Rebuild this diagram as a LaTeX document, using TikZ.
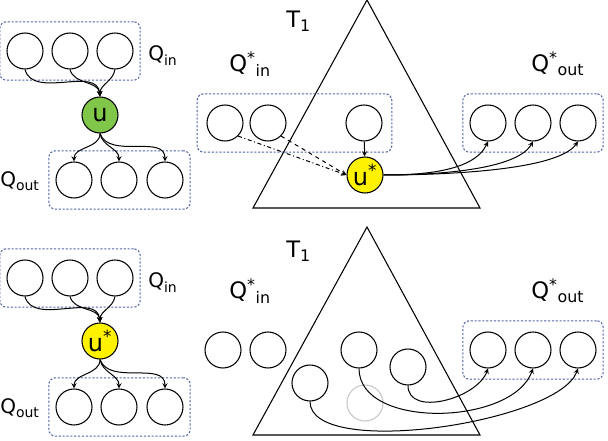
\documentclass[tikz,border=0pt]{standalone}
\usepackage{fontspec}
\setmainfont{DejaVu Sans}
\usetikzlibrary{arrows, positioning, fit}

\definecolor{boxblue}{RGB}{80,100,165}
\definecolor{ugreen}{RGB}{128,198,72}
\definecolor{uyellow}{RGB}{255,242,0}

\begin{document}
\begin{tikzpicture}[x=0.75pt, y=-0.75pt]

% Define styles
\tikzstyle{vert} = [circle, draw=black, line width=0.8pt, minimum size=27pt, inner sep=0pt]
\tikzstyle{qbox} = [rectangle, rounded corners=5pt, draw=boxblue, dash pattern=on 1.6pt off 1.3pt, line width=0.8pt, inner xsep=5pt, inner ysep=8pt]
\tikzstyle{arrow} = [line width=0.75pt, ->, >=stealth]
\tikzstyle{lbl} = [inner sep=0pt, font=\fontsize{15}{18}\selectfont]
\tikzstyle{biglbl} = [inner sep=0pt, font=\fontsize{17}{20}\selectfont]
\tikzstyle{ulbl} = [font=\fontsize{18}{20}\selectfont]

\useasboundingbox (0,0) rectangle (608,441);

% Trees
\draw [line width=0.8pt] (367,0) -- (480,208) -- (253,208) -- cycle;
\draw [line width=0.8pt] (367,227) -- (480,435) -- (253,435) -- cycle;

% Upper left: vertex u
\node (a1) [vert] at (25,51) {};
\node (a2) [vert] at (70,51) {};
\node (a3) [vert] at (115,51) {};
\node (qin) [qbox, fit=(a1)(a3)] {};
\node (qinlbl) [lbl, anchor=base west] at (148,61) {Q\textsubscript{in}};
\node (u) [vert, fill=ugreen, ulbl] at (100,115) {u};
\node (b1) [vert] at (74,180) {};
\node (b2) [vert] at (119,180) {};
\node (b3) [vert] at (165,180) {};
\node (qout) [qbox, fit=(b1)(b3)] {};
\node (qoutlbl) [lbl, anchor=base west] at (0,187) {Q\textsubscript{out}};

\draw [arrow] (a1.south) to[out=-75, in=95] (u.north);
\draw [arrow] (a2.south) to[out=-75, in=95] (u.north);
\draw [arrow] (a3.south) to[out=-100, in=90] (u.north);
\draw [arrow] (u.south) to[out=-90, in=90] (b1.north);
\draw [arrow] (u.south) to[out=-80, in=90] (b2.north);
\draw [arrow] (u.south) to[out=-70, in=90] (b3.north);

% Upper right: u* inside T1
\node (t1lbl) [biglbl, anchor=base west] at (286,28) {T\textsubscript{1}};
\node (qsinlbl) [biglbl, anchor=base west] at (229,72) {Q\textsuperscript{*}\textsubscript{in}};
\node (qsoutlbl) [biglbl, anchor=base west] at (531,72) {Q\textsuperscript{*}\textsubscript{out}};
\node (p1) [vert] at (225,123) {};
\node (p2) [vert] at (268,123) {};
\node (p3) [vert] at (364,123) {};
\node (qsin) [qbox, fit=(p1)(p3), inner xsep=7pt] {};
\node (us) [vert, fill=uyellow, ulbl] at (365,175) {u\textsuperscript{*}};
\node (c1) [vert] at (488,123) {};
\node (c2) [vert] at (533,123) {};
\node (c3) [vert] at (578,123) {};
\node (qsout) [qbox, fit=(c1)(c3)] {};

\draw [arrow] (p3) -- (us);
\draw [arrow, dash dot] (p1.south east) -- (us.west);
\draw [arrow, dashed] (p2.south east) -- (us.west);
\draw [arrow] (us.east) to[out=0, in=-115, looseness=0.8] (c1.south);
\draw [arrow] (us.east) to[out=0, in=-120, looseness=0.6] (c2.south);
\draw [arrow] (us.east) to[out=0, in=-125, looseness=0.5] (c3.south);

% Lower left: vertex u*
\node (a4) [vert] at (25,278) {};
\node (a5) [vert] at (70,278) {};
\node (a6) [vert] at (115,278) {};
\node (qin2) [qbox, fit=(a4)(a6)] {};
\node (qinlbl2) [lbl, anchor=base west] at (148,288) {Q\textsubscript{in}};
\node (us2) [vert, fill=uyellow, ulbl] at (100,341) {u\textsuperscript{*}};
\node (b4) [vert] at (74,407) {};
\node (b5) [vert] at (119,407) {};
\node (b6) [vert] at (165,407) {};
\node (qout2) [qbox, fit=(b4)(b6)] {};
\node (qoutlbl2) [lbl, anchor=base west] at (0,414) {Q\textsubscript{out}};

\draw [arrow] (a4.south) to[out=-75, in=95] (us2.north);
\draw [arrow] (a5.south) to[out=-75, in=95] (us2.north);
\draw [arrow] (a6.south) to[out=-100, in=90] (us2.north);
\draw [arrow] (us2.south) to[out=-90, in=90] (b4.north);
\draw [arrow] (us2.south) to[out=-80, in=90] (b5.north);
\draw [arrow] (us2.south) to[out=-70, in=90] (b6.north);

% Lower right: u* removed from T1
\node (t1lbl2) [biglbl, anchor=base west] at (286,258) {T\textsubscript{1}};
\node (qsinlbl2) [biglbl, anchor=base west] at (229,299) {Q\textsuperscript{*}\textsubscript{in}};
\node (qsoutlbl2) [biglbl, anchor=base west] at (531,299) {Q\textsuperscript{*}\textsubscript{out}};
\node (q1) [vert] at (223,350) {};
\node (q2) [vert] at (268,350) {};
\node (r1) [vert] at (359,350) {};
\node (r2) [vert] at (408,367) {};
\node (r3) [vert] at (310,383) {};
\node (gone) [vert, draw=gray!45] at (365,403) {};
\node (d1) [vert] at (488,350) {};
\node (d2) [vert] at (533,350) {};
\node (d3) [vert] at (578,350) {};
\node (qsout2) [qbox, fit=(d1)(d3)] {};

\draw [arrow] (r2.south) to[out=-90, in=-110] (d1.south);
\draw [arrow] (r1.south) to[out=-90, in=-110, looseness=0.9] (d2.south);
\draw [arrow] (r3.south) to[out=-90, in=-110, looseness=0.55] (d3.south);

\end{tikzpicture}
\end{document}
